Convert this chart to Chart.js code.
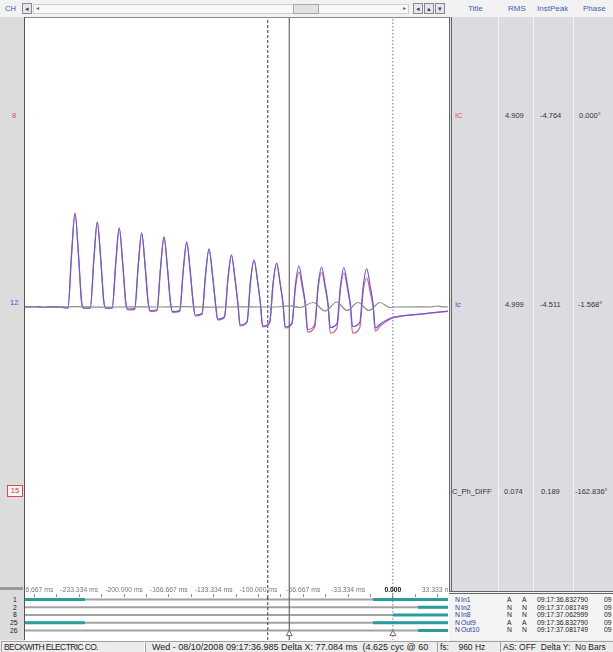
<!DOCTYPE html>
<html>
<head>
<meta charset="utf-8">
<script src="https://cdn.jsdelivr.net/npm/chart.js@4.4.0/dist/chart.umd.min.js"></script>
<style>
  body { margin: 0; width: 613px; height: 652px; position: relative; overflow: hidden;
         background: #ececec; font-family: "Liberation Sans", Arial, sans-serif; }
  .abs { position: absolute; white-space: nowrap; }
  .btn { position: absolute; width: 8px; height: 9px; border: 1px solid #8a8a8a; background: #e6e6e6;
         font-size: 7px; line-height: 9px; text-align: center; color: #2a3a90; }
  .hdr { position: absolute; top: 4px; font-size: 8px; color: #4060b8; }
  .cell { position: absolute; font-size: 7.5px; color: #333; }
  .col { position: absolute; top: 17px; width: 1px; height: 574px; background: #f4f4f6; }
  .dig { position: absolute; font-size: 6.8px; line-height: 7px; color: #222; }
  .sbox { position: absolute; top: 641px; height: 10px; border-top: 1px solid #a0a0a0; border-left: 1px solid #a0a0a0;
          border-bottom: 1px solid #fff; border-right: 1px solid #fff; font-size: 8.5px; line-height: 10px;
          color: #222; overflow: hidden; }
  canvas { position: absolute; }
</style>
</head>
<body>

<!-- toolbar -->
<div class="abs" style="left:0;top:0;width:449px;height:17px;background:#f2f2f2;"></div>
<div class="abs" style="left:5px;top:4px;font-size:7.5px;color:#3a58a8;">CH</div>
<div class="btn" style="left:22px;top:3px;">&#9666;</div>
<div class="abs" style="left:33px;top:4px;width:374px;height:8px;background:#f8f8f8;border:1px solid #cfcfcf;"></div>
<div class="abs" style="left:36px;top:4px;font-size:6px;color:#666;">&#9666;</div>
<div class="abs" style="left:293px;top:4px;width:24px;height:8px;background:#e2e2e2;border:1px solid #a8a8a8;"></div>
<div class="abs" style="left:403px;top:4px;font-size:6px;color:#666;">&#9656;</div>
<div class="btn" style="left:413px;top:3px;">&#9666;</div>
<div class="btn" style="left:424px;top:3px;">&#9652;</div>
<div class="btn" style="left:435px;top:3px;">&#9662;</div>

<!-- right header -->
<div class="abs" style="left:449px;top:0;width:164px;height:17px;background:#f2f2f2;"></div>
<div class="hdr" style="left:468px;">Title</div>
<div class="hdr" style="left:508px;">RMS</div>
<div class="hdr" style="left:537px;">InstPeak</div>
<div class="hdr" style="left:583px;">Phase</div>

<!-- left strip -->
<div class="abs" style="left:0;top:17px;width:24px;height:623px;background:#dcdcdc;border-right:1px solid #555;"></div>
<div class="abs" style="left:0;top:587px;width:23px;height:3px;background:#9a9a9a;"></div>
<div class="abs" style="left:12px;top:111px;font-size:7.5px;color:#e04858;">8</div>
<div class="abs" style="left:10px;top:298px;font-size:7.5px;color:#4050d0;">12</div>
<div class="abs" style="left:7px;top:485px;width:14px;height:10px;border:1px solid #e04858;background:#faf4f4;
     font-size:7.5px;line-height:10px;color:#d03848;text-align:center;">15</div>
<div class="dig" style="left:13px;top:596px;">1</div>
<div class="dig" style="left:13px;top:604px;">2</div>
<div class="dig" style="left:13px;top:611px;">8</div>
<div class="dig" style="left:10px;top:619px;">25</div>
<div class="dig" style="left:10px;top:627px;">26</div>

<!-- plot background -->
<div class="abs" style="left:25px;top:17px;width:424px;height:623px;background:#fff;border-top:1px solid #8a8a8a;"></div>

<!-- right panel -->
<div class="abs" style="left:449px;top:17px;width:161px;height:574px;background:#dcdce0;border-left:3px double #666;"></div>
<div class="col" style="left:498px;"></div>
<div class="col" style="left:533px;"></div>
<div class="col" style="left:573px;"></div>

<div class="cell" style="left:455px;top:111px;color:#e04858;">IC</div>
<div class="cell" style="left:505px;top:111px;">4.909</div>
<div class="cell" style="left:540px;top:111px;">-4.764</div>
<div class="cell" style="left:579px;top:111px;">0.000&deg;</div>

<div class="cell" style="left:455px;top:300px;color:#4050d0;">Ic</div>
<div class="cell" style="left:505px;top:300px;">4.999</div>
<div class="cell" style="left:540px;top:300px;">-4.511</div>
<div class="cell" style="left:578px;top:300px;">-1.568&deg;</div>

<div class="cell" style="left:452px;top:487px;">C_Ph_DIFF</div>
<div class="cell" style="left:504px;top:487px;">0.074</div>
<div class="cell" style="left:541px;top:487px;">0.189</div>
<div class="cell" style="left:575px;top:487px;">-162.836&deg;</div>

<!-- digital channel table -->
<div class="abs" style="left:449px;top:591px;width:164px;height:46px;background:#f4f4f4;border-top:3px double #666;"></div>
<div id="digitalTable"></div>

<!-- status bar -->
<div class="sbox" style="left:1px;width:140px;padding-left:2px;letter-spacing:-0.6px;">BECKWITH ELECTRIC CO.</div>
<div class="sbox" style="left:145px;width:285px;padding-left:6px;font-size:9px;">Wed - 08/10/2008 09:17:36.985 Delta X: 77.084 ms&nbsp; (4.625 cyc @ 60 Hz)</div>
<div class="sbox" style="left:437px;width:60px;padding-left:2px;">fs:&nbsp;&nbsp;&nbsp; 960 Hz</div>
<div class="sbox" style="left:500px;width:110px;padding-left:2px;">AS: OFF&nbsp; Delta Y:&nbsp; No Bars</div>

<canvas id="waveCanvas" width="423" height="580" style="left:25px;top:18px;"></canvas>
<canvas id="digitalCanvas" width="423" height="54" style="left:25px;top:586px;"></canvas>

<script>
'use strict';

//Visible time window, ms relative to the 0.000 cursor
const viewMs = [-273.7, 41.0];

//Sample times shared by the IC and Ic traces (ms)
const sampleMs = [
  -274, -266, -259, -252, -246,
  -241.7, -239.1, -236.5, -233.9, -231.7, -230.1,
  -225.1, -222.5, -219.9, -217.3, -215.1, -213.5,
  -208.8, -206.2, -203.6, -201.0, -198.8, -197.2,
  -192.1, -189.5, -186.9, -184.3, -182.1, -180.5,
  -175.5, -172.9, -170.3, -167.7, -165.5, -163.9,
  -158.6, -156.0, -153.4, -150.8, -148.6, -147.0,
  -142.0, -139.4, -136.8, -134.2, -132.0, -130.4,
  -125.3, -122.7, -120.1, -117.5, -115.3, -113.7,
  -108.5, -105.9, -103.3, -100.7, -98.5, -96.9,
  -91.7, -89.1, -86.5, -83.9, -81.7, -80.1,
  -75.1, -72.5, -69.9, -67.3, -65.1, -63.5,
  -58.2, -55.6, -53.0, -50.4, -48.2, -46.6,
  -41.6, -39.0, -36.4, -33.8, -31.6, -30.0,
  -24.7, -22.1, -19.5, -16.9, -14.7, -13.1,
  -9.0, -4.5, 0.0, 8.0, 20.0, 30.0, 41.5
];

//IC (red) trace values
const valuesIC = [
  0, 0.03, -0.05, 0.02, -0.04,
  -0.12, 5.2, 9.4, 5.2, 0.6, -0.15,
  -0.12, 4.7, 8.5, 4.7, 0.55, -0.15,
  -0.12, 4.35, 7.9, 4.35, 0.5, -0.30,
  -0.24, 4.05, 7.4, 4.05, 0.45, -0.45,
  -0.36, 3.85, 7.0, 3.85, 0.45, -0.55,
  -0.44, 3.6, 6.5, 3.6, 0.4, -0.90,
  -0.72, 3.2, 5.8, 3.2, 0.35, -1.30,
  -1.04, 2.85, 5.2, 2.85, 0.3, -1.90,
  -1.52, 2.6, 4.7, 2.6, 0.25, -2.00,
  -1.60, 2.35, 4.35, 2.35, 0.2, -2.10,
  -1.68, 1.9, 3.5, 1.9, 0.1, -2.50,
  -2.00, 1.9, 3.5, 1.9, 0.05, -2.60,
  -2.08, 1.8, 3.4, 1.8, 0.0, -2.60,
  -2.08, 1.55, 2.9, 1.5, -0.05, -2.40,
  -1.85, -1.4, -1.1, -0.9, -0.74, -0.58, -0.43
];

//Ic (blue) trace values
const valuesIc = [
  0, 0.05, -0.03, 0.04, -0.02,
  -0.10, 5.2, 9.4, 5.2, 0.65, -0.10,
  -0.08, 4.7, 8.5, 4.7, 0.6, -0.10,
  -0.08, 4.35, 7.9, 4.35, 0.55, -0.20,
  -0.16, 4.05, 7.4, 4.05, 0.5, -0.35,
  -0.28, 3.85, 7.0, 3.85, 0.5, -0.45,
  -0.36, 3.6, 6.5, 3.6, 0.45, -0.80,
  -0.64, 3.2, 5.8, 3.2, 0.4, -1.20,
  -0.96, 2.85, 5.2, 2.85, 0.35, -1.80,
  -1.45, 2.6, 4.7, 2.6, 0.3, -1.90,
  -1.52, 2.4, 4.4, 2.4, 0.3, -2.00,
  -1.60, 2.25, 4.1, 2.25, 0.3, -2.25,
  -1.80, 2.2, 4.0, 2.2, 0.3, -2.05,
  -1.64, 2.15, 3.95, 2.15, 0.25, -1.95,
  -1.56, 2.1, 3.85, 2.1, 0.25, -2.10,
  -1.65, -1.3, -1.03, -0.85, -0.7, -0.55, -0.4
];

//C_Ph_DIFF (gray) trace
const diffMs = [-274, -255, -235, -215, -195, -175, -155, -135, -115, -95, -82, -76.6, -69.1,
  -59.4, -50.5, -41.8, -34.1, -25.9, -17.8, -9.6, -2.2, 1.6, 20.2, 28, 32.8, 36, 41.5];
const valuesDiff = [0.02, -0.02, 0.03, -0.02, 0.02, 0.0, 0.03, -0.02, 0.02, 0.0, 0.05, 0.12, -0.05,
  0.45, -0.4, 0.5, -0.35, 0.45, -0.35, 0.45, -0.05, 0.0, 0.02, 0.0, 0.1, 0.03, 0.0];

//Cursor positions (ms): dashed, solid, blue zero
const cursorMs = [-93.1, -77.084, 0];

//Time axis ticks
const tickMs = [-266.667, -233.334, -200.000, -166.667, -133.334, -100.000, -66.667, -33.334, 0, 33.333];
const tickLabels = ['-266.667 ms', '-233.334 ms', '-200.000 ms', '-166.667 ms', '-133.334 ms',
  '-100.000 ms', '-66.667 ms', '-33.334 ms', '0.000', '33.333 ms'];
const minorTickMs = [-250.000, -216.667, -183.334, -150.000, -116.667, -83.334, -50.000, -16.667, 16.667];

//Digital channels and their active intervals (ms)
const digitalChannels = ['1', '2', '8', '25', '26'];
const digitalNames = ['In1', 'In2', 'In8', 'Out9', 'Out10'];
const digitalFlags = [['A', 'A'], ['N', 'N'], ['N', 'N'], ['A', 'A'], ['N', 'N']];
const digitalStamps = ['09:17:36.832790', '09:17:37.081749', '09:17:37.062999', '09:17:36.832790', '09:17:37.081749'];
const digitalOnMs = [
  [[-273.7, -229.1], [-14.8, 41]],
  [[18.7, 41]],
  [[0.1, 41]],
  [[-273.7, -229.1], [-14.8, 41]],
  [[18.7, 41]]
];

const cursorStyles = [
  { color: '#3a3a3a', dash: [3, 2], width: 1 },
  { color: '#6a6a6a', dash: [], width: 1.2 },
  { color: '#6464e8', dash: [1.5, 2], width: 1 }
];

//digital table on the right
function buildDigitalTable() {
  let table = document.getElementById('digitalTable');
  for (let i = 0; i < digitalNames.length; i++) {
    let top = 596 + i * 7.6;
    let cells = [
      [455, 'N', '#2838a0'], [461, digitalNames[i], '#2838a0'],
      [507, digitalFlags[i][0], '#222'], [522, digitalFlags[i][1], '#222'],
      [537, digitalStamps[i], '#222'], [604, '09', '#222']
    ];
    for (let c of cells) {
      let el = document.createElement('div');
      el.className = 'dig';
      el.style.left = c[0] + 'px';
      el.style.top = top + 'px';
      el.style.color = c[2];
      el.textContent = c[1];
      table.append(el);
    }
  }
}

function cursorDatasets(yMin, yMax) {
  return cursorMs.map((t, i) => ({
    data: [{ x: t, y: yMin }, { x: t, y: yMax }],
    borderColor: cursorStyles[i].color,
    borderDash: cursorStyles[i].dash,
    borderWidth: cursorStyles[i].width,
    pointRadius: 0,
    order: 0
  }));
}

const waveMin = -29.1;
const waveMax = 28.9;

function drawWaveChart() {
  const ctx = document.getElementById('waveCanvas').getContext('2d');
  new Chart(ctx, {
    type: 'line',
    data: {
      datasets: [
        {
          label: 'C_Ph_DIFF',
          data: diffMs.map((t, i) => ({ x: t, y: valuesDiff[i] })),
          borderColor: '#8c8c8c',
          borderWidth: 1.2,
          cubicInterpolationMode: 'monotone',
          pointRadius: 0,
          order: 1
        },
        {
          label: 'Ic',
          data: sampleMs.map((t, i) => ({ x: t, y: valuesIc[i] })),
          borderColor: 'rgb(92, 92, 236)',
          borderWidth: 1.2,
          cubicInterpolationMode: 'monotone',
          pointRadius: 0,
          order: 2
        },
        {
          label: 'IC',
          data: sampleMs.map((t, i) => ({ x: t, y: valuesIC[i] })),
          borderColor: 'rgb(226, 88, 132)',
          borderWidth: 1.2,
          cubicInterpolationMode: 'monotone',
          pointRadius: 0,
          order: 3
        }
      ].concat(cursorDatasets(waveMin, waveMax).map(d => Object.assign(d, { order: 4 })))
    },
    options: {
      responsive: false,
      animation: false,
      devicePixelRatio: 1,
      layout: { padding: 0, autoPadding: false },
      plugins: { legend: { display: false }, tooltip: { enabled: false } },
      scales: {
        x: { type: 'linear', min: viewMs[0], max: viewMs[1], display: false },
        y: { type: 'linear', min: waveMin, max: waveMax, display: false }
      }
    }
  });
}

const digMin = -0.3;
const digMax = 5.23;

function drawDigitalChart() {
  const ctx = document.getElementById('digitalCanvas').getContext('2d');
  let datasets = [];
  for (let i = 0; i < digitalChannels.length; i++) {
    datasets.push({
      data: [{ x: viewMs[0], y: i }, { x: viewMs[1], y: i }],
      borderColor: '#a2a2a2',
      borderWidth: 2,
      pointRadius: 0,
      order: 3
    });
    let onPoints = [];
    for (let seg of digitalOnMs[i]) {
      if (onPoints.length) {
        onPoints.push({ x: seg[0] - 0.01, y: null });
      }
      onPoints.push({ x: seg[0], y: i }, { x: seg[1], y: i });
    }
    datasets.push({
      data: onPoints,
      borderColor: '#2a9c9c',
      borderWidth: 3,
      pointRadius: 0,
      spanGaps: false,
      order: 2
    });
  }
  datasets = datasets.concat(cursorDatasets(digMin, digMax));
  datasets.push({
    data: [{ x: cursorMs[1], y: 4.44 }, { x: cursorMs[2], y: 4.44 }],
    showLine: false,
    pointStyle: 'triangle',
    pointRadius: 3.5,
    pointBackgroundColor: '#ffffff',
    pointBorderColor: '#6a6a6a',
    pointBorderWidth: 1,
    order: -1
  });

  new Chart(ctx, {
    type: 'line',
    data: { datasets: datasets },
    options: {
      responsive: false,
      animation: false,
      devicePixelRatio: 1,
      layout: { padding: 0, autoPadding: false },
      plugins: { legend: { display: false }, tooltip: { enabled: false } },
      scales: {
        x: {
          type: 'linear',
          position: 'top',
          min: viewMs[0],
          max: viewMs[1],
          afterBuildTicks: (scale) => {
            scale.ticks = tickMs.concat(minorTickMs).sort((a, b) => a - b).map(v => ({ value: v }));
          },
          afterFit: (scale) => {
            scale.paddingLeft = 0;
            scale.paddingRight = 0;
          },
          border: { display: false },
          grid: { drawOnChartArea: false, drawTicks: true, tickLength: 3, color: '#8a8a8a' },
          ticks: {
            autoSkip: false,
            maxRotation: 0,
            padding: 0,
            color: (c) => (c.tick && c.tick.value === 0 ? '#111' : '#777'),
            font: (c) => (c.tick && c.tick.value === 0
              ? { family: 'Liberation Sans', size: 6.8, weight: 'bold' }
              : { family: 'Liberation Sans', size: 6.8 }),
            callback: (value) => {
              let idx = tickMs.indexOf(value);
              return idx >= 0 ? tickLabels[idx] : '';
            }
          }
        },
        y: { type: 'linear', min: digMin, max: digMax, reverse: true, display: false }
      }
    }
  });
}

buildDigitalTable();
drawWaveChart();
drawDigitalChart();
</script>
</body>
</html>
